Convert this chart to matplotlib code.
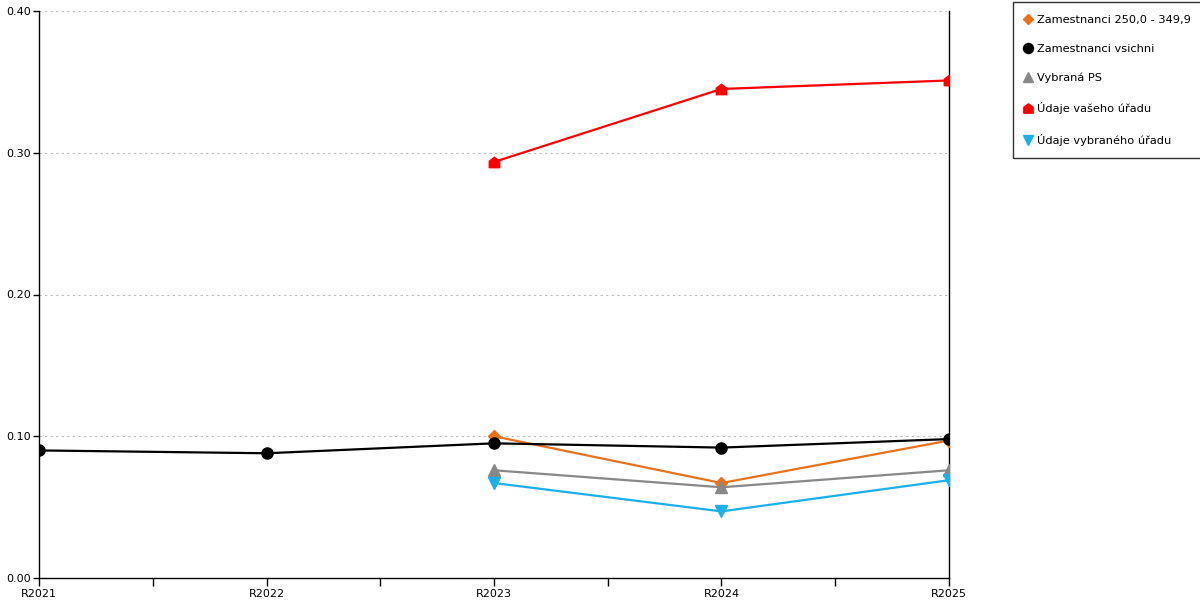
import matplotlib
matplotlib.use("Agg")
import matplotlib.pyplot as plt
from matplotlib.path import Path
import numpy as np

categories = ["R2021", "R2022", "R2023", "R2024", "R2025"]
zam_250 = [None, None, 0.100, 0.067, 0.097]
zam_all = [0.090, 0.088, 0.095, 0.092, 0.098]
vybrana_ps = [None, None, 0.076, 0.064, 0.076]
udaje_vaseho = [None, None, 0.2935, 0.345, 0.351]
udaje_vybraneho = [None, None, 0.067, 0.047, 0.069]

labels = ["Zamestnanci 250,0 - 349,9", "Zamestnanci vsichni", "Vybraná PS",
          "Údaje vašeho úřadu", "Údaje vybraného úřadu"]

house = Path([(-1, -1), (1, -1), (1, 0.25), (0, 1), (-1, 0.25), (-1, -1)],
             [Path.MOVETO, Path.LINETO, Path.LINETO, Path.LINETO, Path.LINETO, Path.CLOSEPOLY])

plt.rcParams['font.family'] = ['DejaVu Sans']
fig = plt.figure(figsize=(12, 6), dpi=100)
ax = fig.add_axes([39/1200, 22/600, (949-39)/1200, (578-11)/600])

x = np.arange(len(categories))

def to_arr(v):
    return np.array([np.nan if a is None else a for a in v], dtype=float)

series = [
    (zam_250, "#E8711A", "D", 6),
    (zam_all, "#000000", "o", 8),
    (vybrana_ps, "#888888", "^", 8),
    (udaje_vaseho, "#FF0000", house, 7.5),
    (udaje_vybraneho, "#1AB0EC", "v", 8),
]
handles = []
for (vals, col, mk, ms), lab in zip(series, labels):
    y = to_arr(vals)
    ax.plot(x, y, color=col, lw=1.6, zorder=3)
    ax.plot(x, y, linestyle="none", marker=mk, color=col, markersize=ms, zorder=4)
    h, = ax.plot([], [], linestyle="none", marker=mk, color=col, markersize=ms*0.9, label=lab)
    handles.append(h)

ax.set_xlim(0, len(categories) - 1)
ax.set_ylim(0, 0.4)
ax.set_xticks(x)
ax.set_xticklabels(categories, fontsize=8)
ax.set_xticks(np.arange(0.5, len(categories) - 1, 1), minor=True)
ax.tick_params(axis='x', which='both', direction='out', length=6, width=1, pad=2)
ax.set_yticks([0, 0.1, 0.2, 0.3, 0.4])
ax.set_yticklabels(["0.00", "0.10", "0.20", "0.30", "0.40"], fontsize=8)
ax.tick_params(axis='y', direction='out', length=4, width=1, pad=2)
ax.grid(axis='y', color='#bbbbbb', linestyle=(0, (2, 3)), lw=0.8)
ax.grid(axis='x', visible=False)
ax.set_axisbelow(True)
ax.spines['top'].set_visible(False)
for s in ['left', 'right', 'bottom']:
    ax.spines[s].set_color('black')
    ax.spines[s].set_linewidth(1)

leg = fig.legend(handles=handles, loc='upper left', bbox_to_anchor=(1013/1200, 1 - 2/600),
                 fontsize=8.2, frameon=True, fancybox=False, edgecolor='black',
                 handlelength=0.5, handletextpad=0.5, labelspacing=1.68,
                 borderpad=1.1, borderaxespad=0)
leg.get_frame().set_linewidth(1)

fig.savefig("out.png", dpi=100)
